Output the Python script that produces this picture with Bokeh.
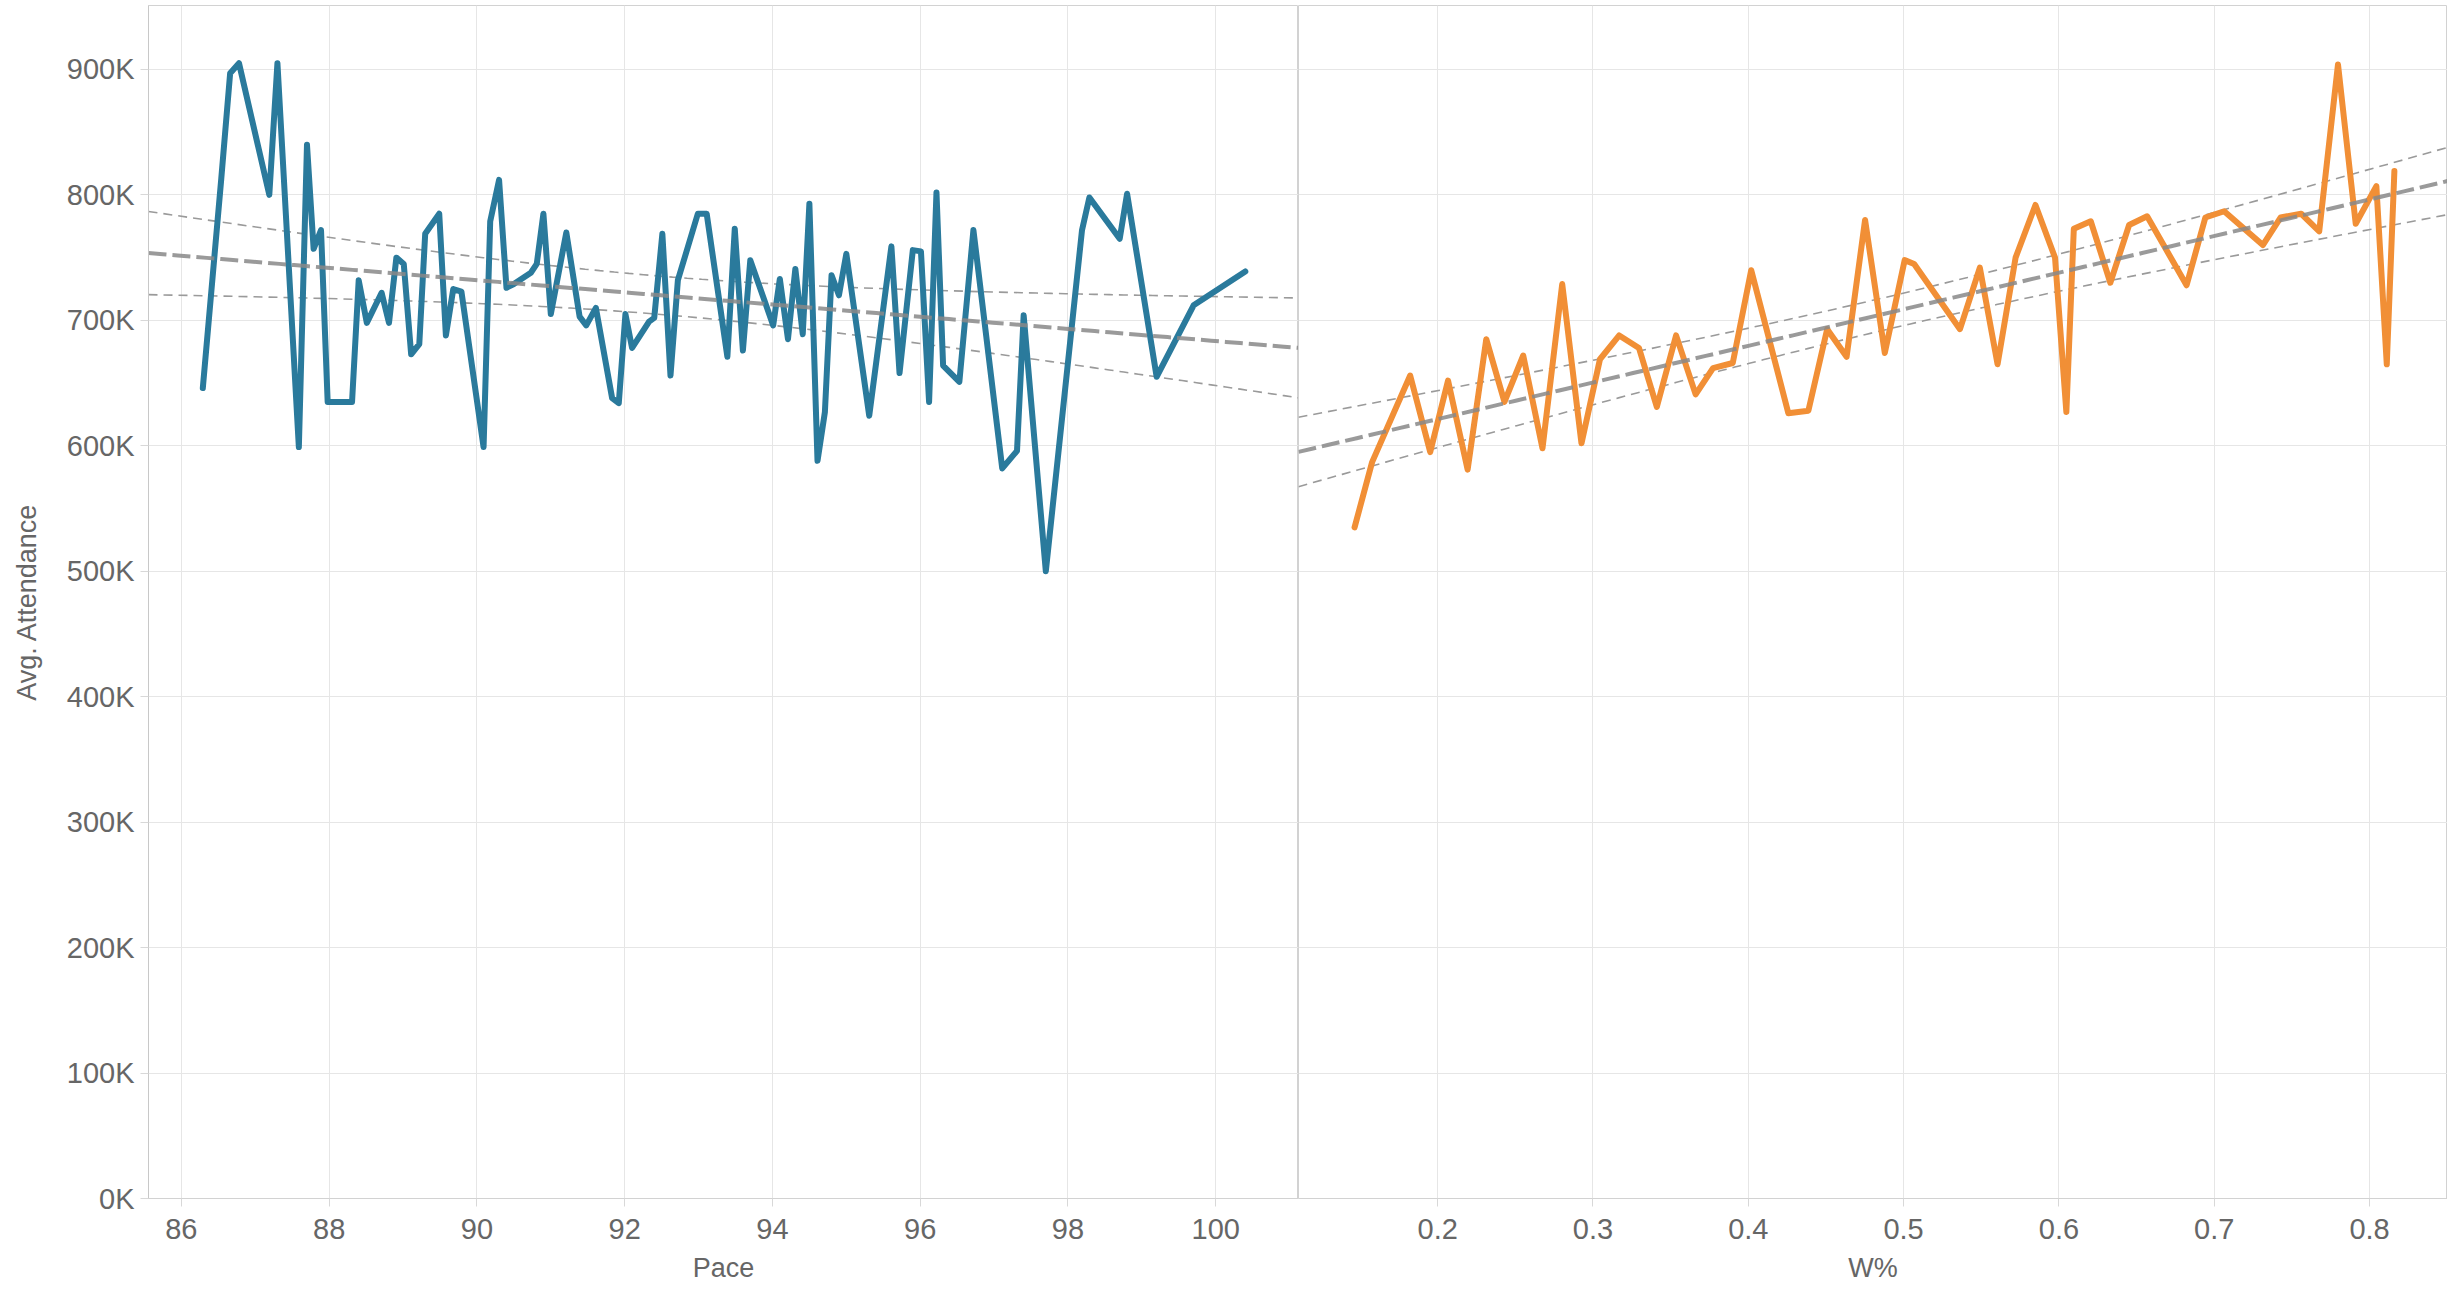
import numpy as np
from bokeh.plotting import figure
from bokeh.layouts import row
from bokeh.models import FixedTicker, PrintfTickFormatter, Range1d, BoxAnnotation
from bokeh.embed import file_html
from bokeh.resources import INLINE

# ---------------- data (attendance in thousands) ----------------
pace = [86.29, 86.54, 86.66, 86.78, 87.19, 87.30, 87.59, 87.70, 87.79, 87.89,
        87.98, 88.31, 88.40, 88.51, 88.71, 88.81, 88.91, 89.01, 89.11, 89.22,
        89.30, 89.49, 89.58, 89.68, 89.79, 90.09, 90.18, 90.30, 90.40, 90.50,
        90.73, 90.81, 90.90, 91.00, 91.21, 91.39, 91.48, 91.61, 91.83, 91.92,
        92.01, 92.10, 92.33, 92.40, 92.51, 92.62, 92.72, 92.99, 93.11, 93.39,
        93.49, 93.60, 93.70, 94.01, 94.10, 94.21, 94.31, 94.41, 94.50, 94.61,
        94.71, 94.80, 94.90, 95.00, 95.31, 95.61, 95.72, 95.90, 96.01, 96.12,
        96.22, 96.31, 96.53, 96.72, 97.11, 97.31, 97.40, 97.70, 98.19, 98.29,
        98.70, 98.80, 99.20, 99.70, 100.40]
pace_att = [646, 813, 897, 905, 800, 905, 599, 840, 757, 772,
            635, 635, 732, 698, 722, 698, 750, 745, 673, 681,
            769, 785, 688, 725, 723, 599, 779, 812, 726, 729,
            738, 745, 785, 705, 770, 703, 696, 710, 638, 634,
            705, 678, 699, 702, 769, 656, 732, 785, 785, 671,
            773, 676, 748, 696, 733, 685, 741, 689, 793, 588,
            627, 736, 720, 753, 624, 759, 658, 756, 755, 635,
            802, 664, 651, 772, 582, 596, 704, 500, 772, 798,
            765, 801, 655, 712, 739]

winpct = [0.1465, 0.1578, 0.1823, 0.1952, 0.2067, 0.2193, 0.2313, 0.2430, 0.2551, 0.2675,
          0.2802, 0.2926, 0.3045, 0.3169, 0.3296, 0.3411, 0.3535, 0.3661, 0.3773, 0.3900,
          0.4019, 0.4258, 0.4387, 0.4508, 0.4633, 0.4752, 0.4879, 0.5007, 0.5068, 0.5363,
          0.5491, 0.5605, 0.5721, 0.5849, 0.5975, 0.6048, 0.6096, 0.6205, 0.6331, 0.6452,
          0.6568, 0.6822, 0.6943, 0.7064, 0.7313, 0.7427, 0.7560, 0.7676, 0.7797, 0.7911,
          0.8044, 0.8111, 0.8160]
win_att = [535, 587, 656, 595, 652, 581, 685, 635, 672, 598,
           729, 602, 669, 688, 678, 631, 688, 641, 662, 666,
           740, 626, 628, 693, 671, 780, 674, 748, 745, 693,
           742, 665, 750, 792, 750, 627, 773, 779, 730, 776,
           783, 728, 782, 787, 760, 782, 785, 771, 904, 777,
           807, 665, 819]

y_ticks = [0, 100, 200, 300, 400, 500, 600, 700, 800, 900]
pace_ticks = [86, 88, 90, 92, 94, 96, 98, 100]
win_ticks = [0.2, 0.3, 0.4, 0.5, 0.6, 0.7, 0.8]

# ---------------- styling ----------------
FONT = "Liberation Sans"
TEAL = "#2a7a9c"
ORANGE = "#f18f36"
GRID = "#e6e6e6"
TEXT = "#666666"
H = 1298
Y_RANGE = (0, 951)
TICK_PX = "29px"
TITLE_PX = "27px"
BORDER_PX = 5
AXIS_PX = 100


def trend(x, y, xr, t):
    x = np.asarray(x, float)
    y = np.asarray(y, float)
    n = len(x)
    b, a = np.polyfit(x, y, 1)
    xs = np.linspace(xr[0], xr[1], 80)
    yhat = a + b * xs
    resid = y - (a + b * x)
    s = np.sqrt(np.sum(resid ** 2) / (n - 2))
    xm = x.mean()
    sxx = np.sum((x - xm) ** 2)
    hw = t * s * np.sqrt(1.0 / n + (xs - xm) ** 2 / sxx)
    return xs, yhat, yhat - hw, yhat + hw


def style(p):
    p.background_fill_color = "white"
    p.border_fill_color = "white"
    p.outline_line_color = "#d2d2d2"
    p.outline_line_width = 1
    p.xgrid.grid_line_color = GRID
    p.ygrid.grid_line_color = GRID
    p.ygrid.ticker = FixedTicker(ticks=y_ticks)
    for ax in p.xaxis:
        ax.axis_line_color = "#d2d2d2"
        ax.major_tick_line_color = "#d8d8d8"
        ax.major_tick_out = 8
        ax.major_tick_in = 0
        ax.minor_tick_line_color = None
        ax.major_label_text_font = FONT
        ax.major_label_text_font_size = TICK_PX
        ax.major_label_text_color = TEXT
        ax.major_label_standoff = 12
        ax.axis_label_text_font = FONT
        ax.axis_label_text_font_size = TITLE_PX
        ax.axis_label_text_font_style = "normal"
        ax.axis_label_text_color = TEXT
        ax.axis_label_standoff = 11


def pane_divider(p, x0):
    # vertical panel divider continuing below the frame, through the axis area
    p.add_layout(BoxAnnotation(left=x0, right=x0, left_units="data", right_units="data",
                               top=H - AXIS_PX, bottom=H, top_units="screen", bottom_units="screen",
                               fill_alpha=0, line_color="#c8c8c8", line_width=1.5))


# ---------------- left panel: Pace ----------------
lx = (85.555, 101.12)
p1 = figure(width=1298, height=H, x_range=Range1d(*lx), y_range=Range1d(*Y_RANGE),
            output_backend="svg", toolbar_location=None,
            min_border_left=148, min_border_right=0, min_border_top=BORDER_PX,
            min_border_bottom=AXIS_PX)
style(p1)
p1.xaxis.ticker = FixedTicker(ticks=pace_ticks)
p1.xaxis.axis_label = "Pace"
p1.yaxis.ticker = FixedTicker(ticks=y_ticks)
p1.yaxis.formatter = PrintfTickFormatter(format="%dK")
p1.yaxis.axis_label = "Avg. Attendance"
p1.yaxis.axis_line_color = "#c8c8c8"
p1.yaxis.major_tick_line_color = "#d8d8d8"
p1.yaxis.major_tick_out = 8
p1.yaxis.major_tick_in = 0
p1.yaxis.minor_tick_line_color = None
p1.yaxis.major_label_text_font = FONT
p1.yaxis.major_label_text_font_size = TICK_PX
p1.yaxis.major_label_text_color = TEXT
p1.yaxis.major_label_standoff = 6
p1.yaxis.axis_label_text_font = FONT
p1.yaxis.axis_label_text_font_size = TITLE_PX
p1.yaxis.axis_label_text_font_style = "normal"
p1.yaxis.axis_label_text_color = TEXT
p1.yaxis.axis_label_standoff = 22
pane_divider(p1, lx[0])

xs, yh, lo, hi = trend(pace, pace_att, lx, 1.99)
p1.line(xs, hi, line_color="#9a9a9a", line_width=1.6, line_dash="9 6")
p1.line(xs, lo, line_color="#9a9a9a", line_width=1.6, line_dash="9 6")
p1.line(pace, pace_att, line_color=TEAL, line_width=6, line_join="round", line_cap="round")
p1.line(xs, yh, line_color="#888888", line_width=4, line_dash="18 6", line_alpha=0.85)

# ---------------- right panel: W% ----------------
rx = (0.1104, 0.8502)
p2 = figure(width=1149, height=H, x_range=Range1d(*rx), y_range=Range1d(*Y_RANGE),
            output_backend="svg", toolbar_location=None,
            min_border_left=0, min_border_right=0, min_border_top=BORDER_PX,
            min_border_bottom=AXIS_PX)
style(p2)
p2.yaxis.visible = False
p2.xaxis.ticker = FixedTicker(ticks=win_ticks)
p2.xaxis.axis_label = "W%"
pane_divider(p2, rx[0])

xs2, yh2, lo2, hi2 = trend(winpct, win_att, rx, 2.01)
p2.line(xs2, hi2, line_color="#9a9a9a", line_width=1.6, line_dash="9 6")
p2.line(xs2, lo2, line_color="#9a9a9a", line_width=1.6, line_dash="9 6")
p2.line(winpct, win_att, line_color=ORANGE, line_width=6, line_join="round", line_cap="round")
p2.line(xs2, yh2, line_color="#888888", line_width=4, line_dash="18 6", line_alpha=0.85)

layout = row(p1, p2)
open("out.html", "w").write(file_html(layout, INLINE))
